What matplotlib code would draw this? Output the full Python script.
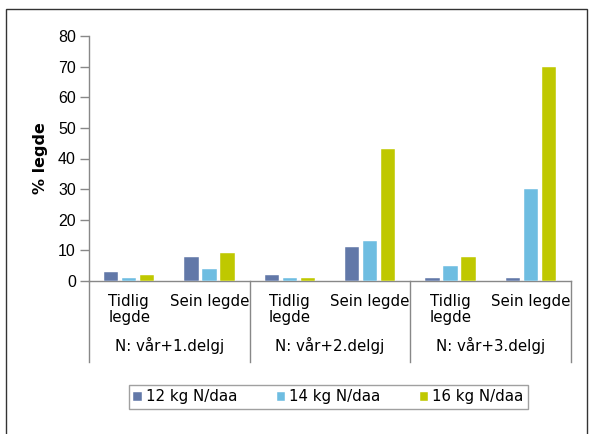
import matplotlib.pyplot as plt
import matplotlib.transforms as mtransforms
from matplotlib.patches import Rectangle
import numpy as np

# data
categories = ['Tidlig\nlegde', 'Sein legde'] * 3
groups = ['N: vår+1.delgj', 'N: vår+2.delgj', 'N: vår+3.delgj']
series_names = ['12 kg N/daa', '14 kg N/daa', '16 kg N/daa']
vals_12 = [3, 8, 2, 11, 1, 1]
vals_14 = [1, 4, 1, 13, 5, 30]
vals_16 = [2, 9, 1, 43, 8, 70]
colors = ['#6278A8', '#6EBDE1', '#BFC800']

W, H = 594, 434
fig = plt.figure(figsize=(W / 100, H / 100), dpi=100)
ax = fig.add_axes([89 / W, 1 - 281 / H, (571 - 89) / W, (281 - 36) / H])

x = np.arange(len(categories))
bw = 0.18
for k, (vals, c, name) in enumerate(zip([vals_12, vals_14, vals_16], colors, series_names)):
    ax.bar(x + (k - 1) * 0.224, vals, width=bw, color=c, edgecolor='white',
           linewidth=0.3, label=name, zorder=3)

ax.set_xlim(-0.5, 5.5)
ax.set_ylim(0, 80)
ax.set_yticks(range(0, 81, 10))
ax.set_xticks([])
for lab in ax.get_yticklabels():
    lab.set_fontfamily('Liberation Sans')
    lab.set_fontsize(11.5)
ax.tick_params(axis='y', direction='out', length=6.5, color='#888888', width=1, pad=3)
for s in ['top', 'right']:
    ax.spines[s].set_visible(False)
for s in ['left', 'bottom']:
    ax.spines[s].set_color('#888888')
    ax.spines[s].set_linewidth(1)

ax.set_ylabel('% legde', fontsize=11.5, fontweight='bold', fontfamily='DejaVu Sans', labelpad=7)

# category and group labels below the axis
trans = mtransforms.blended_transform_factory(ax.transData, ax.transAxes)
for i, cat in enumerate(categories):
    ax.text(i, -0.055, cat, transform=trans, ha='center', va='top',
            multialignment='left', fontsize=10.8, fontfamily='DejaVu Sans', linespacing=1.05)
for g, name in enumerate(groups):
    ax.text(2 * g + 0.5, -0.265, name, transform=trans, ha='center', va='center',
            fontsize=10.8, fontfamily='DejaVu Sans')
for xs in [-0.5, 1.5, 3.5, 5.5]:
    ax.plot([xs, xs], [0, -0.33], transform=trans, color='#888888', lw=1, clip_on=False)

leg = fig.legend(loc='center', bbox_to_anchor=((126 + 531) / 2 / W, 1 - 397 / H), ncol=3,
                 frameon=True, fancybox=False, handlelength=0.55, handleheight=0.55,
                 handletextpad=0.3, columnspacing=2.6, borderpad=0.3,
                 prop={'family': 'DejaVu Sans', 'size': 10.8})
leg.get_frame().set_edgecolor('#888888')
leg.get_frame().set_linewidth(1)

fig.patches.append(Rectangle((6 / W, -0.02), (587 - 6) / W, 1.02 - 9 / H, transform=fig.transFigure,
                             fill=False, edgecolor='#333333', lw=1))

fig.savefig('out.png', dpi=100)
